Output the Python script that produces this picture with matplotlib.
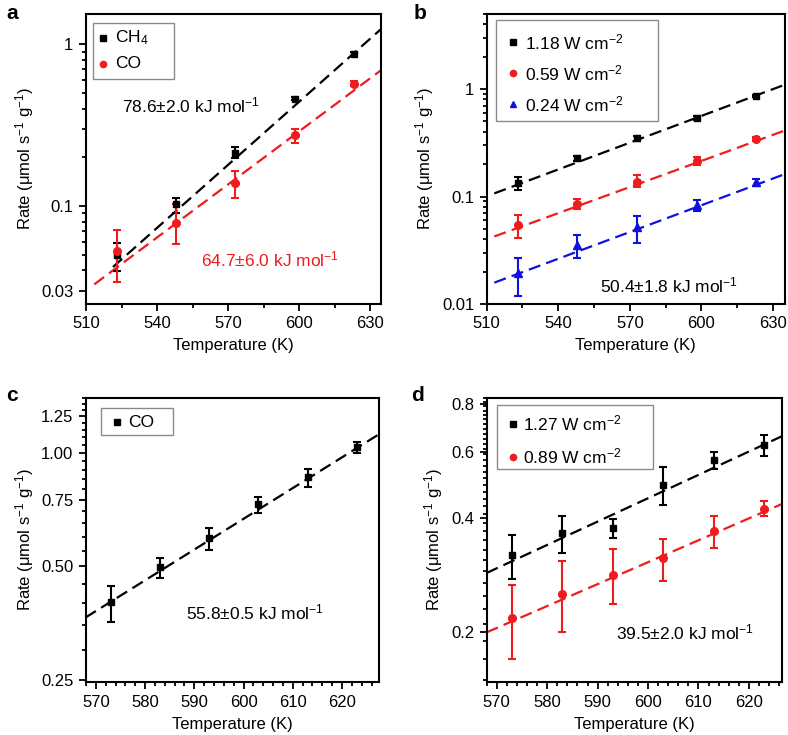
import numpy as np
import matplotlib
matplotlib.use('Agg')
import matplotlib.pyplot as plt
from matplotlib.ticker import FixedLocator, NullFormatter, FixedFormatter, LogLocator, MultipleLocator
from matplotlib.patches import Rectangle

plt.rcParams['font.family'] = ['Liberation Sans', 'DejaVu Sans']
plt.rcParams['mathtext.fontset'] = 'custom'
plt.rcParams['mathtext.rm'] = 'Liberation Sans'
plt.rcParams['mathtext.it'] = 'Liberation Sans'
plt.rcParams['mathtext.default'] = 'regular'
plt.rcParams['font.size'] = 12

# ---------------- data ----------------
# panel a
T_a = [523, 548, 573, 598, 623]
ch4_rate = [0.050, 0.103, 0.212, 0.46, 0.87]
ch4_lo = [0.0395, 0.090, 0.198, 0.45, 0.85]
ch4_hi = [0.059, 0.112, 0.232, 0.475, 0.89]
co_rate = [0.0525, 0.079, 0.139, 0.276, 0.569]
co_lo = [0.034, 0.058, 0.112, 0.245, 0.55]
co_hi = [0.071, 0.103, 0.165, 0.30, 0.59]
fit_a_ch4_T = [521.4, 635]
fit_a_ch4 = [0.042, 1.26]
fit_a_co_T = [513.5, 635]
fit_a_co = [0.0328, 0.70]

# panel b
T_b = [523, 548, 573, 598, 623]
b118 = [0.133, 0.226, 0.347, 0.54, 0.866]
b118_lo = [0.114, 0.215, 0.33, 0.52, 0.84]
b118_hi = [0.151, 0.238, 0.365, 0.56, 0.89]
b059 = [0.054, 0.0853, 0.138, 0.215, 0.342]
b059_lo = [0.041, 0.077, 0.122, 0.198, 0.33]
b059_hi = [0.067, 0.094, 0.159, 0.232, 0.355]
b024 = [0.0193, 0.0354, 0.0524, 0.0835, 0.136]
b024_lo = [0.0118, 0.0266, 0.037, 0.0727, 0.126]
b024_hi = [0.0266, 0.0435, 0.066, 0.093, 0.146]
fit_b_T = [513.2, 635]
fit_b118 = [0.107, 1.10]
fit_b059 = [0.0425, 0.412]
fit_b024 = [0.0158, 0.162]

# panel c
T_c = [573, 583, 593, 603, 613, 623]
c_rate = [0.402, 0.497, 0.596, 0.732, 0.864, 1.035]
c_lo = [0.357, 0.465, 0.553, 0.694, 0.813, 0.996]
c_hi = [0.445, 0.526, 0.633, 0.762, 0.907, 1.069]
fit_c_T = [567.9, 627.5]
fit_c = [0.366, 1.12]

# panel d
T_d = [573, 583, 593, 603, 613, 623]
d127 = [0.320, 0.366, 0.377, 0.490, 0.569, 0.626]
d127_lo = [0.276, 0.324, 0.354, 0.434, 0.540, 0.584]
d127_hi = [0.362, 0.406, 0.398, 0.546, 0.597, 0.663]
d089 = [0.218, 0.253, 0.284, 0.314, 0.370, 0.423]
d089_lo = [0.1705, 0.200, 0.237, 0.273, 0.333, 0.406]
d089_hi = [0.266, 0.308, 0.331, 0.352, 0.406, 0.444]
fit_d_T = [568, 627.5]
fit_d127 = [0.287, 0.668]
fit_d089 = [0.200, 0.442]

ea_a_ch4 = '78.6±2.0 kJ mol$^{−1}$'
ea_a_co = '64.7±6.0 kJ mol$^{−1}$'
ea_b = '50.4±1.8 kJ mol$^{−1}$'
ea_c = '55.8±0.5 kJ mol$^{−1}$'
ea_d = '39.5±2.0 kJ mol$^{−1}$'

labels_a = ['CH$_4$', 'CO']
labels_b = ['1.18 W cm$^{−2}$', '0.59 W cm$^{−2}$', '0.24 W cm$^{−2}$']
labels_c = ['CO']
labels_d = ['1.27 W cm$^{−2}$', '0.89 W cm$^{−2}$']

ylabel = 'Rate (μmol s$^{−1}$ g$^{−1}$)'
xlabel = 'Temperature (K)'

RED = '#ee1c1c'
BLUE = '#1010e0'
BLACK = '#000000'

fig = plt.figure(figsize=(7.88, 7.35), dpi=100)

def style(ax):
    for s in ax.spines.values():
        s.set_linewidth(1.5)
    ax.tick_params(which='both', direction='out', top=False, right=False, width=1.3, labelsize=12)
    ax.tick_params(which='major', length=5, pad=4)
    ax.tick_params(which='minor', length=3)
    ax.set_xlabel(xlabel, fontsize=12, labelpad=5)
    ax.set_ylabel(ylabel, fontsize=12, labelpad=4)

def series(ax, T, y, lo, hi, color, marker, ms):
    y = np.array(y); lo = np.array(lo); hi = np.array(hi)
    ax.errorbar(T, y, yerr=[y - lo, hi - y], fmt=marker, color=color, ms=ms,
                elinewidth=1.5, capsize=3, capthick=1.5, zorder=3)

def fit(ax, T, y, color):
    ax.plot(T, y, color=color, lw=1.6, ls=(0, (5.5, 2.8)), zorder=2)

def box_legend(ax, box, mx, tx, ys, markers, colors, labels):
    x0, y0, x1, y1 = box
    ax.add_patch(Rectangle((x0, y0), x1 - x0, y1 - y0, transform=ax.transAxes,
                           facecolor='white', edgecolor='#8a8a8a', lw=1.0, zorder=5))
    for y, m, c, lab in zip(ys, markers, colors, labels):
        ms = 5.0 if m == '^' else 4.5
        ax.plot([mx], [y], ls='none', marker=m, color=c, ms=ms, transform=ax.transAxes,
                zorder=6, clip_on=False)
        ax.text(tx, y, lab, transform=ax.transAxes, fontsize=12.5, va='center', ha='left', zorder=6)

# ---------------- panel a ----------------
axa = fig.add_axes([0.1091, 0.5864, 0.3744, 0.3946])
axa.set_yscale('log')
fit(axa, fit_a_ch4_T, fit_a_ch4, BLACK)
fit(axa, fit_a_co_T, fit_a_co, RED)
series(axa, T_a, ch4_rate, ch4_lo, ch4_hi, BLACK, 's', 5)
series(axa, T_a, co_rate, co_lo, co_hi, RED, 'o', 5.5)
axa.set_xlim(510, 634.5)
axa.set_ylim(0.0248, 1.54)
axa.xaxis.set_major_locator(MultipleLocator(30))
axa.xaxis.set_minor_locator(MultipleLocator(15))
axa.yaxis.set_major_locator(FixedLocator([0.03, 0.1, 1]))
axa.yaxis.set_major_formatter(FixedFormatter(['0.03', '0.1', '1']))
axa.yaxis.set_minor_locator(LogLocator(subs=np.arange(2, 10)))
axa.yaxis.set_minor_formatter(NullFormatter())
style(axa)
axa.text(0.122, 0.685, ea_a_ch4, transform=axa.transAxes, fontsize=12.5, color=BLACK, va='center')
axa.text(0.39, 0.152, ea_a_co, transform=axa.transAxes, fontsize=12.5, color=RED, va='center')
box_legend(axa, (0.0227, 0.776, 0.298, 0.970), 0.057, 0.10, [0.918, 0.828],
           ['s', 'o'], [BLACK, RED], labels_a)

# ---------------- panel b ----------------
axb = fig.add_axes([0.6176, 0.5864, 0.3786, 0.3946])
axb.set_yscale('log')
fit(axb, fit_b_T, fit_b118, BLACK)
fit(axb, fit_b_T, fit_b059, RED)
fit(axb, fit_b_T, fit_b024, BLUE)
series(axb, T_b, b118, b118_lo, b118_hi, BLACK, 's', 5)
series(axb, T_b, b059, b059_lo, b059_hi, RED, 'o', 5.5)
series(axb, T_b, b024, b024_lo, b024_hi, BLUE, '^', 6)
axb.set_xlim(510, 635)
axb.set_ylim(0.01, 5.0)
axb.xaxis.set_major_locator(MultipleLocator(30))
axb.xaxis.set_minor_locator(MultipleLocator(15))
axb.yaxis.set_major_locator(FixedLocator([0.01, 0.1, 1]))
axb.yaxis.set_major_formatter(FixedFormatter(['0.01', '0.1', '1']))
axb.yaxis.set_minor_locator(LogLocator(subs=np.arange(2, 10)))
axb.yaxis.set_minor_formatter(NullFormatter())
style(axb)
axb.text(0.38, 0.065, ea_b, transform=axb.transAxes, fontsize=12.5, color=BLACK, va='center')
box_legend(axb, (0.031, 0.632, 0.574, 0.979), 0.087, 0.128, [0.903, 0.795, 0.688],
           ['s', 'o', '^'], [BLACK, RED, BLUE], labels_b)

# ---------------- panel c ----------------
axc = fig.add_axes([0.1091, 0.0717, 0.3718, 0.3872])
axc.set_yscale('log')
fit(axc, fit_c_T, fit_c, BLACK)
series(axc, T_c, c_rate, c_lo, c_hi, BLACK, 's', 5)
axc.set_xlim(568, 627.5)
axc.set_ylim(0.2465, 1.40)
axc.xaxis.set_major_locator(MultipleLocator(10))
axc.xaxis.set_minor_locator(MultipleLocator(2))
axc.yaxis.set_major_locator(FixedLocator([0.25, 0.5, 0.75, 1.0, 1.25]))
axc.yaxis.set_major_formatter(FixedFormatter(['0.25', '0.50', '0.75', '1.00', '1.25']))
axc.yaxis.set_minor_locator(FixedLocator(np.arange(0.25, 1.41, 0.05)))
axc.yaxis.set_minor_formatter(NullFormatter())
style(axc)
axc.text(0.34, 0.245, ea_c, transform=axc.transAxes, fontsize=12.5, color=BLACK, va='center')
box_legend(axc, (0.050, 0.868, 0.298, 0.965), 0.107, 0.143, [0.914],
           ['s'], [BLACK], labels_c)

# ---------------- panel d ----------------
axd = fig.add_axes([0.6176, 0.0717, 0.3744, 0.3872])
axd.set_yscale('log')
fit(axd, fit_d_T, fit_d127, BLACK)
fit(axd, fit_d_T, fit_d089, RED)
series(axd, T_d, d127, d127_lo, d127_hi, BLACK, 's', 5)
series(axd, T_d, d089, d089_lo, d089_hi, RED, 'o', 5.5)
axd.set_xlim(568, 626.5)
axd.set_ylim(0.1476, 0.833)
axd.xaxis.set_major_locator(MultipleLocator(10))
axd.xaxis.set_minor_locator(MultipleLocator(2))
axd.yaxis.set_major_locator(FixedLocator([0.2, 0.4, 0.6, 0.8]))
axd.yaxis.set_major_formatter(FixedFormatter(['0.2', '0.4', '0.6', '0.8']))
axd.yaxis.set_minor_locator(FixedLocator(np.arange(0.15, 0.84, 0.02)))
axd.yaxis.set_minor_formatter(NullFormatter())
style(axd)
axd.text(0.44, 0.175, ea_d, transform=axd.transAxes, fontsize=12.5, color=BLACK, va='center')
box_legend(axd, (0.034, 0.749, 0.565, 0.974), 0.090, 0.124, [0.908, 0.792],
           ['s', 'o'], [BLACK, RED], labels_d)

# panel letters
for x, y, s in [(0.008, 0.995, 'a'), (0.525, 0.995, 'b'), (0.008, 0.475, 'c'), (0.522, 0.475, 'd')]:
    fig.text(x, y, s, fontsize=15, fontweight='bold', va='top', ha='left')

fig.savefig('out.png', dpi=100)
